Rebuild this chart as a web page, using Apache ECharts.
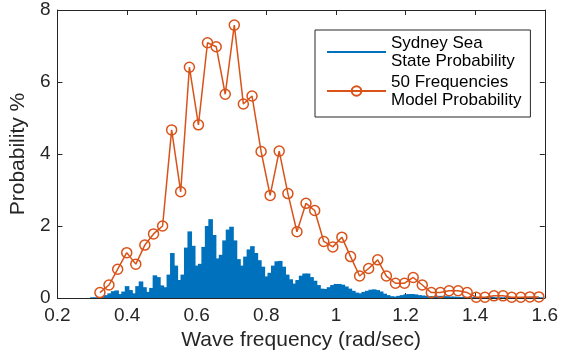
<!DOCTYPE html>
<html>
<head>
<meta charset="utf-8">
<script src="https://cdn.jsdelivr.net/npm/echarts@6/dist/echarts.min.js"></script>
<style>
  html, body { margin: 0; padding: 0; background: #fff; }
  #chart { width: 561px; height: 358px; }
</style>
</head>
<body>
<div id="chart"></div>
<script>
// Sydney sea state spectrum, sampled every 0.01 rad/s
const seaFreq = [
  0.30, 0.31, 0.32, 0.33, 0.34, 0.35, 0.36, 0.37, 0.38, 0.39,
  0.40, 0.41, 0.42, 0.43, 0.44, 0.45, 0.46, 0.47, 0.48, 0.49,
  0.50, 0.51, 0.52, 0.53, 0.54, 0.55, 0.56, 0.57, 0.58, 0.59,
  0.60, 0.61, 0.62, 0.63, 0.64, 0.65, 0.66, 0.67, 0.68, 0.69,
  0.70, 0.71, 0.72, 0.73, 0.74, 0.75, 0.76, 0.77, 0.78, 0.79,
  0.80, 0.81, 0.82, 0.83, 0.84, 0.85, 0.86, 0.87, 0.88, 0.89,
  0.90, 0.91, 0.92, 0.93, 0.94, 0.95, 0.96, 0.97, 0.98, 0.99,
  1.00, 1.01, 1.02, 1.03, 1.04, 1.05, 1.06, 1.07, 1.08, 1.09,
  1.10, 1.11, 1.12, 1.13, 1.14, 1.15, 1.16, 1.17, 1.18, 1.19,
  1.20, 1.21, 1.22, 1.23, 1.24, 1.25, 1.26, 1.27, 1.28, 1.29,
  1.30, 1.31, 1.32, 1.33, 1.34, 1.35, 1.36, 1.37, 1.38, 1.39,
  1.40, 1.41, 1.42, 1.43, 1.44, 1.45, 1.46, 1.47, 1.48, 1.49,
  1.50, 1.51, 1.52, 1.53, 1.54, 1.55, 1.56, 1.57, 1.58, 1.59
];
const seaProb = [
  0.02, 0.02, 0.02, 0.03, 0.08, 0.13, 0.19, 0.21, 0.11, 0.18,
  0.33, 0.22, 0.13, 0.33, 0.46, 0.30, 0.17, 0.28, 0.63, 0.58,
  0.35, 0.30, 0.65, 1.25, 0.90, 0.50, 0.65, 1.40, 1.85, 1.45,
  0.90, 0.95, 1.42, 2.00, 2.19, 1.75, 1.10, 1.20, 1.60, 1.90,
  1.98, 1.60, 1.08, 0.90, 1.15, 1.35, 1.44, 1.25, 1.05, 0.87,
  0.60, 0.70, 0.90, 1.02, 1.03, 0.87, 0.65, 0.52, 0.40, 0.50,
  0.62, 0.68, 0.68, 0.58, 0.48, 0.36, 0.26, 0.25, 0.30, 0.36,
  0.39, 0.39, 0.37, 0.32, 0.26, 0.20, 0.15, 0.13, 0.17, 0.20,
  0.23, 0.24, 0.22, 0.18, 0.12, 0.08, 0.05, 0.04, 0.06, 0.08,
  0.10, 0.11, 0.11, 0.10, 0.08, 0.07, 0.06, 0.05, 0.05, 0.05,
  0.06, 0.05, 0.05, 0.04, 0.04, 0.03, 0.03, 0.03, 0.02, 0.02,
  0.03, 0.03, 0.02, 0.02, 0.02, 0.03, 0.02, 0.02, 0.02, 0.02,
  0.02, 0.02, 0.02, 0.02, 0.02, 0.02, 0.02, 0.02, 0.02, 0.02
];

// 50-frequency model
const modelFreq = [
  0.322, 0.348, 0.373, 0.399, 0.425, 0.451, 0.476, 0.502, 0.528, 0.554,
  0.579, 0.605, 0.631, 0.656, 0.682, 0.708, 0.734, 0.759, 0.785, 0.811,
  0.837, 0.862, 0.888, 0.914, 0.939, 0.965, 0.991, 1.017, 1.042, 1.068,
  1.094, 1.120, 1.145, 1.171, 1.197, 1.222, 1.248, 1.274, 1.300, 1.325,
  1.351, 1.377, 1.403, 1.428, 1.454, 1.480, 1.505, 1.531, 1.557, 1.583
];
const modelProb = [
  0.15, 0.36, 0.80, 1.26, 0.94, 1.47, 1.78, 2.00, 4.67, 2.95,
  6.41, 4.81, 7.09, 6.98, 5.66, 7.58, 5.39, 5.61, 4.07, 2.85,
  4.08, 2.90, 1.84, 2.63, 2.43, 1.57, 1.42, 1.69, 1.15, 0.61,
  0.82, 1.06, 0.61, 0.41, 0.41, 0.57, 0.36, 0.15, 0.15, 0.20,
  0.20, 0.15, 0.02, 0.02, 0.06, 0.06, 0.02, 0.02, 0.03, 0.03
];

const seaName = 'Sydney Sea\nState Probability';
const modelName = '50 Frequencies\nModel Probability';

const FONT = '"Liberation Sans", Arial, sans-serif';
const AXIS = '#262626';
const BLUE = '#0072BD';
const ORANGE = '#D95319';

const chart = echarts.init(document.getElementById('chart'), null, { renderer: 'canvas' });

const frameAxis = (extra) => Object.assign({
  type: 'value',
  axisLine: { show: true, onZero: false, lineStyle: { color: AXIS, width: 1 } },
  axisTick: { show: true, inside: true, length: 5, lineStyle: { color: AXIS, width: 1 } },
  splitLine: { show: false },
}, extra);

chart.setOption({
  animation: false,
  backgroundColor: '#fff',
  textStyle: { fontFamily: FONT },
  grid: { left: 55, right: 12, top: 10, bottom: 60 },
  legend: {
    orient: 'vertical',
    left: 315,
    top: 30,
    padding: [4, 9, 8, 11],
    itemWidth: 59,
    itemHeight: 12,
    itemGap: 3,
    backgroundColor: '#fff',
    borderColor: AXIS,
    borderWidth: 1,
    borderRadius: 0,
    textStyle: { fontFamily: FONT, fontSize: 17, lineHeight: 18, color: '#000' },
    data: [
      { name: seaName, icon: 'path://M0,0 H59 V2 H0 Z' },
      { name: modelName },
    ],
  },
  xAxis: [
    frameAxis({
      min: 0.2, max: 1.6, interval: 0.2, position: 'bottom',
      axisLabel: { fontSize: 19, color: AXIS, margin: 8, fontFamily: FONT },
      name: 'Wave frequency (rad/sec)',
      nameLocation: 'middle',
      nameGap: 32,
      nameTextStyle: { fontSize: 21, color: AXIS, fontFamily: FONT },
    }),
    frameAxis({ min: 0.2, max: 1.6, interval: 0.2, position: 'top', axisLabel: { show: false } }),
  ],
  yAxis: [
    frameAxis({
      min: 0, max: 8, interval: 2, position: 'left',
      axisLabel: { fontSize: 19, color: AXIS, margin: 7, fontFamily: FONT },
      name: 'Probability %',
      nameLocation: 'middle',
      nameGap: 27,
      nameTextStyle: { fontSize: 21, color: AXIS, fontFamily: FONT },
    }),
    frameAxis({ min: 0, max: 8, interval: 2, position: 'right', axisLabel: { show: false } }),
  ],
  series: [
    {
      name: seaName,
      type: 'bar',
      xAxisIndex: 0,
      yAxisIndex: 0,
      barWidth: 4.6,
      itemStyle: { color: BLUE },
      data: seaFreq.map((f, i) => [f, seaProb[i]]),
    },
    {
      name: modelName,
      type: 'line',
      xAxisIndex: 0,
      yAxisIndex: 0,
      symbol: 'circle',
      symbolSize: 10,
      lineStyle: { color: ORANGE, width: 1.5 },
      itemStyle: { color: 'rgba(255,255,255,0)', borderColor: ORANGE, borderWidth: 1.5 },
      data: modelFreq.map((f, i) => [f, modelProb[i]]),
    },
  ],
});
</script>
</body>
</html>
